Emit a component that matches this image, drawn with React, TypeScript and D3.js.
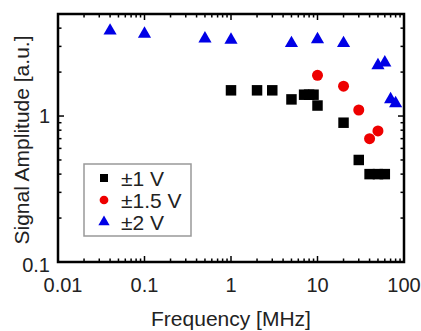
import React, { useEffect, useRef } from 'react'
import * as d3 from 'd3'

// readings, frequency in MHz
const freq1V = [1, 2, 3, 5, 7, 8, 9, 10, 20, 30, 40, 50, 60]
const amp1V = [1.5, 1.5, 1.5, 1.3, 1.4, 1.4, 1.4, 1.18, 0.9, 0.5, 0.4, 0.4, 0.4]
const freq15V = [10, 20, 30, 40, 50]
const amp15V = [1.9, 1.6, 1.1, 0.7, 0.79]
const freq2V = [0.04, 0.1, 0.5, 1, 5, 10, 20, 50, 60, 70, 80]
const amp2V = [3.84, 3.65, 3.39, 3.32, 3.15, 3.35, 3.15, 2.22, 2.32, 1.3, 1.22]
const xTickLabels = ['0.01', '0.1', '1', '10', '100']
const yTickLabels = ['0.1', '1']
const legendLabels = ['±1 V', '±1.5 V', '±2 V']

function App() {
  const svgRef = useRef<SVGSVGElement>(null)

  useEffect(() => {
    const width = 421
    const height = 331
    const left = 58, right = 404, top = 14, bottom = 262
    const font = 'Liberation Sans, Arial, sans-serif'

    const svg = d3.select(svgRef.current)
      .attr('width', width)
      .attr('height', height)
      .style('display', 'block')
      .style('background', '#fff')
    svg.selectAll('*').remove()

    const x = d3.scaleLog().domain([0.01, 100]).range([left, right])
    const y = d3.scaleLog().domain([0.1, 5]).range([bottom, top])

    const isMajor = (v: number) => Math.abs(Math.log10(v) - Math.round(Math.log10(v))) < 1e-6

    // ticks, pointing inward on all four sides
    const ticks = svg.append('g').attr('stroke', '#000').attr('stroke-width', 1.5)
    x.ticks().forEach(v => {
      const len = isMajor(v) ? 6 : 3.5
      ticks.append('line').attr('x1', x(v)).attr('x2', x(v)).attr('y1', bottom).attr('y2', bottom - len)
      ticks.append('line').attr('x1', x(v)).attr('x2', x(v)).attr('y1', top).attr('y2', top + len)
    })
    y.ticks().forEach(v => {
      const len = isMajor(v) ? 6 : 3.5
      ticks.append('line').attr('y1', y(v)).attr('y2', y(v)).attr('x1', left).attr('x2', left + len)
      ticks.append('line').attr('y1', y(v)).attr('y2', y(v)).attr('x1', right).attr('x2', right - len)
    })

    svg.append('rect')
      .attr('x', left).attr('y', top)
      .attr('width', right - left).attr('height', bottom - top)
      .attr('fill', 'none').attr('stroke', '#000').attr('stroke-width', 2.5)

    // tick labels
    svg.append('g').selectAll('text')
      .data(xTickLabels)
      .join('text')
      .attr('x', d => x(+d) + (d === '0.01' ? 5 : 0))
      .attr('y', 292)
      .attr('text-anchor', 'middle')
      .style('font-family', font)
      .style('font-size', '20px')
      .attr('fill', '#222')
      .text(d => d)

    svg.append('g').selectAll('text')
      .data(yTickLabels)
      .join('text')
      .attr('x', 50)
      .attr('y', d => y(+d) + (d === '0.1' ? 10 : 7))
      .attr('text-anchor', 'end')
      .style('font-family', font)
      .style('font-size', '20px')
      .attr('fill', '#222')
      .text(d => d)

    // axis titles
    svg.append('text')
      .attr('x', (left + right) / 2)
      .attr('y', 326)
      .attr('text-anchor', 'middle')
      .style('font-family', font)
      .style('font-size', '21px')
      .attr('fill', '#222')
      .text('Frequency [MHz]')

    svg.append('text')
      .attr('transform', `translate(29,${(top + bottom) / 2 + 2}) rotate(-90)`)
      .attr('text-anchor', 'middle')
      .style('font-family', font)
      .style('font-size', '21px')
      .attr('fill', '#222')
      .text('Signal Amplitude [a.u.]')

    const square = d3.symbol().type(d3.symbolSquare).size(110)
    const circle = d3.symbol().type(d3.symbolCircle).size(95)
    const triangle = d3.symbol().type(d3.symbolTriangle).size(75)

    const plotSeries = (xs: number[], ys: number[], sym: any, color: string) => {
      svg.append('g').selectAll('path')
        .data(xs.map((f, i) => ({ f, a: ys[i] })))
        .join('path')
        .attr('d', sym)
        .attr('transform', d => `translate(${x(d.f)},${y(d.a)})`)
        .attr('fill', color)
    }
    plotSeries(freq2V, amp2V, triangle, '#0000e6')
    plotSeries(freq15V, amp15V, circle, '#ee0000')
    plotSeries(freq1V, amp1V, square, '#000')

    // legend
    const legend = svg.append('g')
    legend.append('rect')
      .attr('x', 84).attr('y', 164)
      .attr('width', 107).attr('height', 72)
      .attr('fill', '#fff').attr('stroke', '#999').attr('stroke-width', 1.5)
    const legendSyms = [
      { sym: d3.symbol().type(d3.symbolSquare).size(64), color: '#000' },
      { sym: d3.symbol().type(d3.symbolCircle).size(60), color: '#ee0000' },
      { sym: d3.symbol().type(d3.symbolTriangle).size(55), color: '#0000e6' },
    ]
    legendLabels.forEach((lab, i) => {
      const cy = 178 + i * 22
      legend.append('path')
        .attr('d', legendSyms[i].sym as any)
        .attr('transform', `translate(104,${cy})`)
        .attr('fill', legendSyms[i].color)
      legend.append('text')
        .attr('x', 121)
        .attr('y', cy + 7.5)
        .style('font-family', font)
        .style('font-size', '21px')
        .attr('fill', '#222')
        .text(lab)
    })
  }, [])

  return (
    <svg ref={svgRef} style={{ position: 'absolute', left: 0, top: 0 }}></svg>
  )
}

export default App
